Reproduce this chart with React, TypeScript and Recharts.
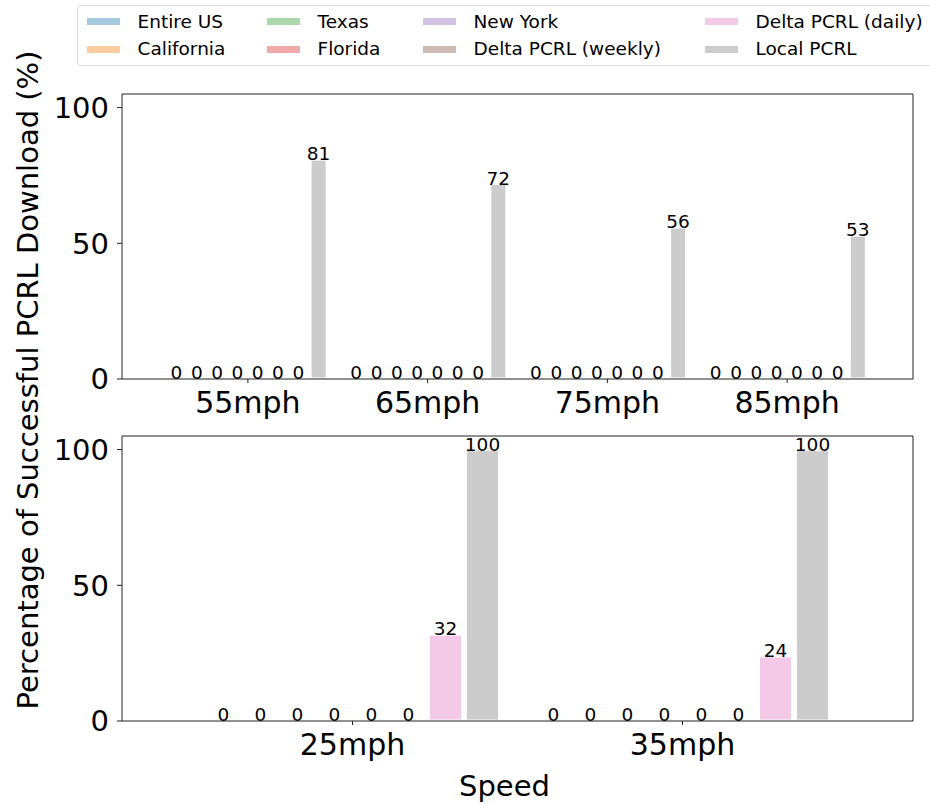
import { BarChart, Bar, XAxis, YAxis, LabelList } from "recharts";

const FONT = "'DejaVu Sans', sans-serif";

const seriesNames = [
  "Entire US", "California", "Texas", "Florida",
  "New York", "Delta PCRL (weekly)", "Delta PCRL (daily)", "Local PCRL",
];
const seriesColors = [
  "#a5c9e1", "#ffcc9f", "#abd9ab", "#efa9a9",
  "#d4c2e5", "#d1bbb7", "#f4c9e7", "#cccccc",
];

const topSpeeds = ["55mph", "65mph", "75mph", "85mph"];
const bottomSpeeds = ["25mph", "35mph"];

// one row per series, one column per speed
const topValues = [
  [0, 0, 0, 0],
  [0, 0, 0, 0],
  [0, 0, 0, 0],
  [0, 0, 0, 0],
  [0, 0, 0, 0],
  [0, 0, 0, 0],
  [0, 0, 0, 0],
  [81, 72, 56, 53],
];
const bottomValues = [
  [0, 0],
  [0, 0],
  [0, 0],
  [0, 0],
  [0, 0],
  [0, 0],
  [32, 24],
  [100, 100],
];

const yTicks = [0, 50, 100];

const keys = seriesNames.map((_, i) => `s${i}`);

const buildRows = (speeds: string[], values: number[][]) =>
  speeds.map((speed, c) => {
    const row: Record<string, string | number> = { speed };
    keys.forEach((k, s) => { row[k] = values[s][c]; });
    return row;
  });

const topData = buildRows(topSpeeds, topValues);
const bottomData = buildRows(bottomSpeeds, bottomValues);

// zero bars keep a 1px stub so their label is kept, but the stub is not drawn
const barShape = (p: any) => {
  if (!(p.height > 1.5)) return <g />;
  return <rect x={p.x} y={p.y} width={p.width} height={p.height} fill={p.fill} stroke="#fff" strokeWidth={3} />;
};

const renderValue = (props: any) => {
  const { x, y, width, value } = props;
  return (
    <text x={Number(x) + Number(width) / 2} y={Number(y) + 1} textAnchor="middle" fontSize={18.5} fill="#000" fontFamily={FONT}>
      {String(value)}
    </text>
  );
};

const axisStroke = { stroke: "#222", strokeWidth: 1 };

function Panel({ data, height, top, barSize, barGap, pad, marginTop, xHeight }: {
  data: Record<string, string | number>[];
  height: number; top: number; barSize: number; barGap: number;
  pad: number; marginTop: number; xHeight: number;
}) {
  return (
    <div style={{ position: "absolute", left: 0, top }}>
      <BarChart width={930} height={height} data={data} barGap={barGap}
        margin={{ top: marginTop, right: 16, left: 0, bottom: 0 }}>
        <XAxis dataKey="speed" height={xHeight} padding={{ left: pad, right: pad }}
          axisLine={axisStroke} tickLine={axisStroke} tickSize={4} tickMargin={9}
          tick={{ fontSize: 30, fill: "#000", fontFamily: FONT }} interval={0} />
        <XAxis xAxisId="top" dataKey="speed" orientation="top" height={1} tick={false} tickLine={false} axisLine={axisStroke} />
        <YAxis domain={[0, 105]} ticks={yTicks} width={122} axisLine={axisStroke} tickLine={axisStroke}
          tickSize={5} tickMargin={8} tick={{ fontSize: 29, fill: "#000", fontFamily: FONT }} />
        <YAxis yAxisId="right" orientation="right" width={1} tick={false} tickLine={false} axisLine={axisStroke} />
        {keys.map((k, i) => (
          <Bar key={k} dataKey={k} name={seriesNames[i]} fill={seriesColors[i]} barSize={barSize}
            minPointSize={1} shape={barShape} isAnimationActive={false}>
            <LabelList dataKey={k} content={renderValue} />
          </Bar>
        ))}
      </BarChart>
    </div>
  );
}

function LegendBox() {
  const colWidths = [180, 156, 282, 200];
  const cols = [[0, 1], [2, 3], [4, 5], [6, 7]];
  return (
    <div style={{
      position: "absolute", left: 76.5, top: 5, width: 880, height: 61,
      border: "1.5px solid #dcdcdc", borderRadius: 4, boxSizing: "border-box", background: "#fff",
    }}>
      {cols.map((col, ci) => (
        <div key={ci} style={{
          position: "absolute", top: 2,
          left: 9 + colWidths.slice(0, ci).reduce((a, b) => a + b, 0),
        }}>
          {col.map((si) => (
            <div key={si} style={{ display: "flex", alignItems: "center", height: 27.5 }}>
              <span style={{ width: 33, height: 7, background: seriesColors[si], display: "inline-block", marginRight: 18 }} />
              <span style={{ fontSize: 18.5, fontFamily: FONT, color: "#000", whiteSpace: "nowrap", lineHeight: 1 }}>
                {seriesNames[si]}
              </span>
            </div>
          ))}
        </div>
      ))}
    </div>
  );
}

export default function App() {
  return (
    <div style={{ position: "absolute", left: 0, top: 0, width: 930, height: 804, overflow: "hidden", background: "#fff", fontFamily: FONT }}>
      <Panel data={topData} top={0} height={420} marginTop={93} xHeight={41}
        barSize={17} barGap={3.3} pad={36} />
      <Panel data={bottomData} top={420} height={384} marginTop={15} xHeight={83}
        barSize={34} barGap={3} pad={65.5} />
      <svg width={930} height={804} style={{ position: "absolute", left: 0, top: 0, pointerEvents: "none" }}>
        <text x={38} y={380} transform="rotate(-90 38 380)" textAnchor="middle" fontSize={29} fontFamily={FONT} fill="#000">
          Percentage of Successful PCRL Download (%)
        </text>
        <text x={504.5} y={796} textAnchor="middle" fontSize={29} fontFamily={FONT} fill="#000">Speed</text>
      </svg>
      <LegendBox />
    </div>
  );
}
